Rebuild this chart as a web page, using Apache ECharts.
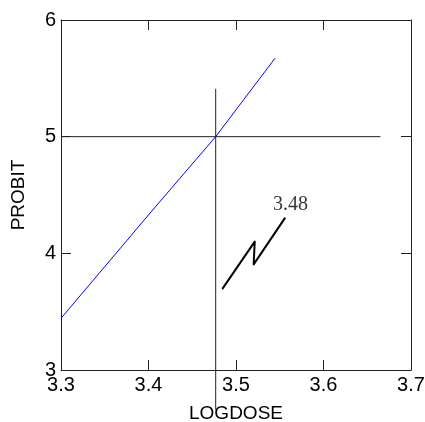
<!DOCTYPE html>
<html>
<head>
<meta charset="utf-8">
<script src="https://cdn.jsdelivr.net/npm/echarts@6/dist/echarts.min.js"></script>
<style>
  html, body { margin: 0; padding: 0; background: #fff; }
  #chart { width: 425px; height: 422px; }
</style>
</head>
<body>
<div id="chart"></div>
<script>
// probit regression line
const fitLine = [[3.3, 3.443], [3.4037, 4.362], [3.4768, 5.0], [3.5446, 5.672]];
// reference lines at probit 5
const hLine = [[3.3, 5], [3.665, 5]];
const vLine = [[3.4768, 5.41], [3.4768, 2.66]];
// break-style mark and its label
const breakMark = [[3.4848, 3.70], [3.5214, 4.10], [3.5202, 3.905], [3.5557, 4.30]];
const markLabel = [[3.5623, 4.42, '3.48']];

const xTicks = { min: 3.3, max: 3.7, interval: 0.1 };
const yTicks = { min: 3, max: 6, interval: 1 };

const chart = echarts.init(document.getElementById('chart'));
const font = '"Liberation Sans", Arial, sans-serif';
const axisCol = '#222';

const baseAxis = {
  axisLine: { show: true, onZero: false, lineStyle: { color: axisCol, width: 1 } },
  axisTick: { show: true, inside: true, length: 10, lineStyle: { color: axisCol } },
  splitLine: { show: false }
};

chart.setOption({
  animation: false,
  grid: { left: 61, right: 14, top: 20, bottom: 52, containLabel: false, outerBoundsMode: 'none' },
  xAxis: [
    Object.assign({}, baseAxis, {
      type: 'value', min: xTicks.min, max: xTicks.max, interval: xTicks.interval,
      name: 'LOGDOSE', nameLocation: 'middle', nameGap: 34,
      nameTextStyle: { fontFamily: font, fontSize: 19, color: '#000' },
      axisLabel: { fontFamily: font, fontSize: 20, color: '#000', margin: 5,
        formatter: v => v.toFixed(1) }
    }),
    Object.assign({}, baseAxis, {
      type: 'value', position: 'top', min: xTicks.min, max: xTicks.max, interval: xTicks.interval,
      axisLabel: { show: false }
    })
  ],
  yAxis: [
    Object.assign({}, baseAxis, {
      type: 'value', min: yTicks.min, max: yTicks.max, interval: yTicks.interval,
      name: 'PROBIT', nameLocation: 'middle', nameGap: 33,
      nameTextStyle: { fontFamily: font, fontSize: 19, color: '#000' },
      axisLabel: { fontFamily: font, fontSize: 20, color: '#000', margin: 5 }
    }),
    Object.assign({}, baseAxis, {
      type: 'value', position: 'right', min: yTicks.min, max: yTicks.max, interval: yTicks.interval,
      axisLabel: { show: false }
    })
  ],
  series: [
    {
      type: 'line', data: fitLine, symbol: 'none',
      lineStyle: { color: '#0000ff', width: 1 }
    },
    {
      type: 'line', data: hLine, symbol: 'none',
      lineStyle: { color: axisCol, width: 1 }
    },
    {
      type: 'line', data: vLine, symbol: 'none', clip: false,
      lineStyle: { color: axisCol, width: 1 }
    },
    {
      type: 'line', data: breakMark, symbol: 'none', smooth: 0.15,
      lineStyle: { color: '#000', width: 2, join: 'round', cap: 'round' }
    },
    {
      type: 'scatter', data: markLabel, symbolSize: 0,
      label: {
        show: true, position: 'inside', formatter: p => p.data[2],
        fontFamily: '"Liberation Serif", "Times New Roman", serif', fontSize: 20, color: '#000'
      }
    }
  ]
});
</script>
</body>
</html>
